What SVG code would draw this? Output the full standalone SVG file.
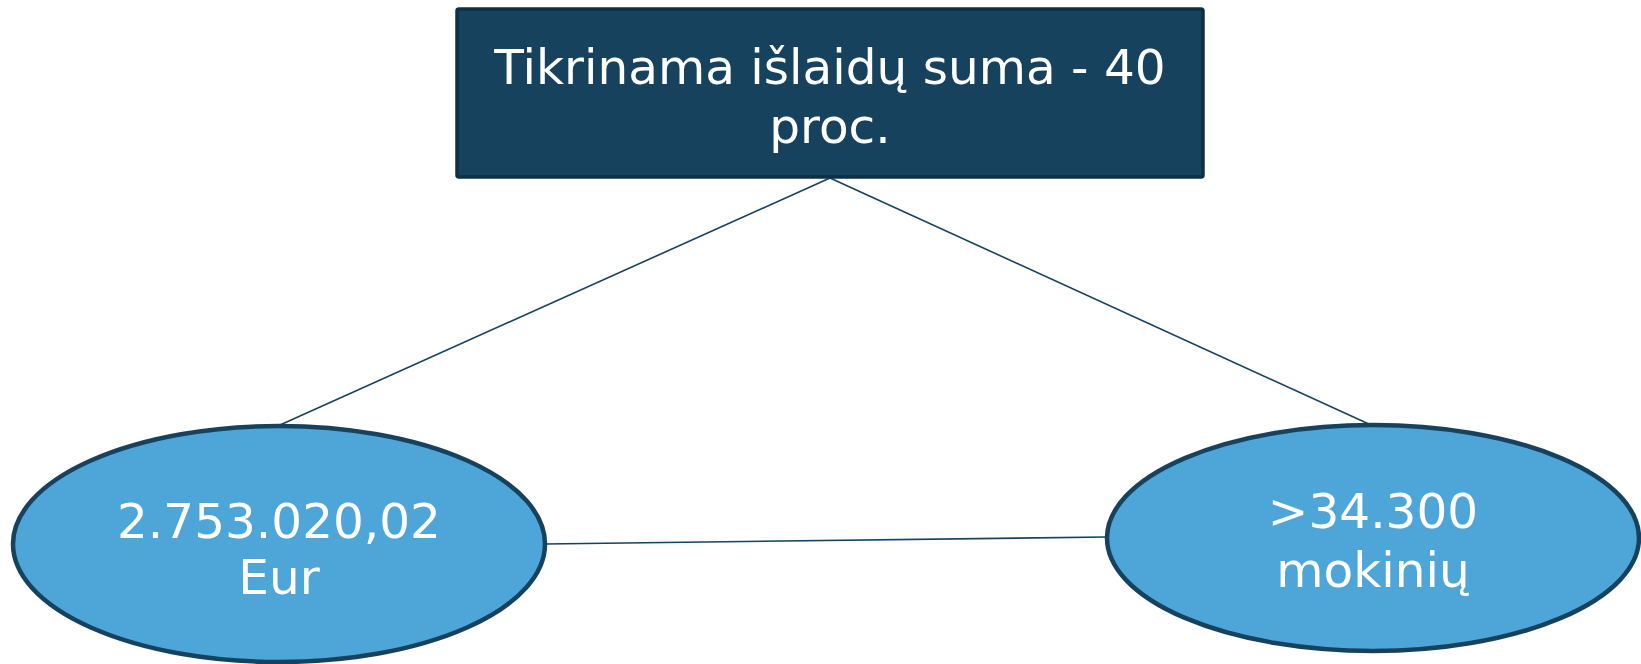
<svg xmlns="http://www.w3.org/2000/svg" width="1641" height="664" viewBox="0 0 1641 664">
<style>
.conn{stroke:#17425e;stroke-width:1.6;fill:none}
.box{fill:#17425e;stroke:#0f2f45;stroke-width:3.5}
.ell{fill:#4ea5d8;stroke:#17425e;stroke-width:4.5}
.t{font-family:"DejaVu Sans",Verdana,sans-serif;font-size:48.5px;fill:#ffffff;text-anchor:middle}
</style>
<rect width="1641" height="664" fill="#ffffff"/>
<g id="connectors">
<line class="conn" x1="830" y1="178" x2="280" y2="425"/>
<line class="conn" x1="830" y1="178" x2="1371" y2="425"/>
<line class="conn" x1="545" y1="544" x2="1106" y2="537"/>
</g>
<g id="node-top">
<rect class="box" x="457" y="9" width="746" height="168" rx="2"/>
<text class="t" x="830" y="84">Tikrinama išlaidų suma - 40</text>
<text class="t" x="830" y="143">proc.</text>
</g>
<g id="node-left">
<ellipse class="ell" cx="279" cy="544" rx="266" ry="118"/>
<text class="t" x="279" y="538">2.753.020,02</text>
<text class="t" x="279" y="594">Eur</text>
</g>
<g id="node-right">
<ellipse class="ell" cx="1373" cy="538" rx="266" ry="113"/>
<text class="t" x="1373" y="528">&gt;34.300</text>
<text class="t" x="1373" y="587">mokinių</text>
</g>
</svg>
